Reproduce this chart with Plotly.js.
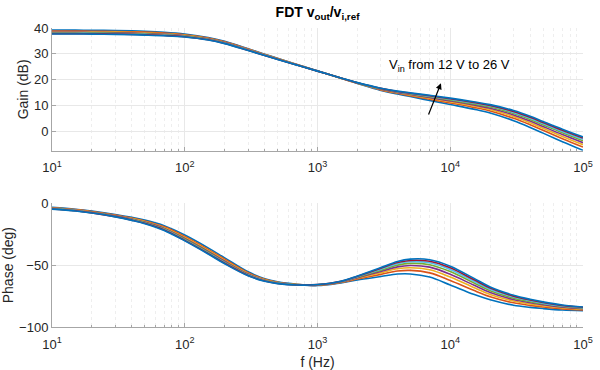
<!DOCTYPE html>
<html>
<head>
<meta charset="utf-8">
<script src="https://cdn.plot.ly/plotly-3.0.1.min.js"></script>
<style>html,body{margin:0;padding:0;background:#fff;}#plot{width:600px;height:370px;}</style>
</head>
<body>
<div id="plot"></div>
<script>
// Frequencies (Hz)
const freq = [10, 15, 20, 30, 40, 50, 70, 100, 150, 200, 300, 400, 500, 700, 1000, 1500, 2000, 3000, 4000, 5000, 7000, 10000, 15000, 20000, 30000, 40000, 50000, 70000, 100000];
// Input voltages
const vinLabels = ['12 V', '14 V', '16 V', '18 V', '20 V', '22 V', '24 V', '26 V'];

// Gain (dB)
const gain12 = [39.2, 39.17, 39.13, 39.03, 38.9, 38.75, 38.38, 37.7, 36.35, 34.85, 32.0, 29.88, 28.28, 25.88, 23.4, 20.55, 18.55, 15.85, 14.45, 13.45, 11.95, 10.4, 8.6, 7.1, 4.1, 1.5, -0.7, -4.0, -7.35];
const gain14 = [38.84, 38.81, 38.77, 38.67, 38.54, 38.39, 38.04, 37.41, 36.11, 34.63, 31.83, 29.75, 28.17, 25.82, 23.38, 20.57, 18.62, 16.05, 14.71, 13.8, 12.43, 10.99, 9.28, 7.88, 5.05, 2.54, 0.39, -2.84, -6.1];
const gain16 = [38.57, 38.54, 38.5, 38.4, 38.27, 38.12, 37.79, 37.2, 35.93, 34.47, 31.71, 29.65, 28.09, 25.78, 23.36, 20.59, 18.68, 16.21, 14.91, 14.06, 12.79, 11.43, 9.8, 8.47, 5.76, 3.33, 1.21, -1.96, -5.17];
const gain18 = [38.35, 38.32, 38.28, 38.18, 38.05, 37.9, 37.58, 37.02, 35.78, 34.34, 31.6, 29.57, 28.02, 25.74, 23.34, 20.61, 18.72, 16.34, 15.08, 14.28, 13.09, 11.8, 10.23, 8.95, 6.35, 3.98, 1.89, -1.24, -4.39];
const gain20 = [38.14, 38.11, 38.07, 37.97, 37.84, 37.69, 37.39, 36.85, 35.64, 34.21, 31.5, 29.49, 27.96, 25.7, 23.33, 20.62, 18.76, 16.45, 15.23, 14.48, 13.37, 12.14, 10.62, 9.41, 6.91, 4.59, 2.53, -0.56, -3.66];
const gain22 = [37.97, 37.94, 37.9, 37.8, 37.67, 37.52, 37.23, 36.72, 35.53, 34.11, 31.43, 29.43, 27.91, 25.68, 23.32, 20.63, 18.8, 16.55, 15.35, 14.64, 13.59, 12.41, 10.94, 9.77, 7.34, 5.07, 3.03, -0.02, -3.09];
const gain24 = [37.84, 37.81, 37.77, 37.67, 37.54, 37.39, 37.11, 36.61, 35.44, 34.03, 31.36, 29.38, 27.87, 25.65, 23.31, 20.64, 18.82, 16.62, 15.45, 14.77, 13.77, 12.63, 11.19, 10.06, 7.7, 5.46, 3.44, 0.41, -2.62];
const gain26 = [37.7, 37.67, 37.63, 37.53, 37.4, 37.25, 36.98, 36.5, 35.35, 33.95, 31.3, 29.33, 27.83, 25.63, 23.3, 20.65, 18.85, 16.7, 15.55, 14.9, 13.95, 12.85, 11.45, 10.35, 8.05, 5.85, 3.85, 0.85, -2.15];

// Phase (deg)
const phase12 = [-3.3, -4.8, -6.35, -9.05, -11.4, -13.55, -18.1, -25.6, -36.0, -44.1, -55.4, -61.0, -63.5, -65.5, -66.5, -64.3, -62.0, -59.2, -57.2, -57.1, -59.6, -66.0, -73.5, -78.0, -82.4, -84.1, -85.1, -86.3, -86.9];
const phase14 = [-3.64, -5.14, -6.71, -9.51, -11.98, -14.25, -19.01, -26.75, -37.2, -45.25, -56.17, -61.48, -63.84, -65.64, -66.31, -63.99, -61.21, -57.45, -54.75, -54.22, -56.24, -62.35, -70.38, -75.5, -80.46, -82.54, -83.8, -85.32, -86.16];
const phase16 = [-3.89, -5.39, -6.98, -9.85, -12.41, -14.77, -19.7, -27.62, -38.1, -46.12, -56.74, -61.84, -64.09, -65.75, -66.16, -63.75, -60.61, -56.13, -52.92, -52.06, -53.72, -59.62, -68.04, -73.63, -79.0, -81.37, -82.83, -84.58, -85.6];
const phase18 = [-4.1, -5.6, -7.21, -10.13, -12.77, -15.2, -20.27, -28.34, -38.85, -46.84, -57.22, -62.14, -64.3, -65.84, -66.04, -63.56, -60.12, -55.04, -51.39, -50.26, -51.62, -57.34, -66.09, -72.07, -77.78, -80.4, -82.02, -83.96, -85.13];
const phase20 = [-4.29, -5.79, -7.42, -10.4, -13.1, -15.61, -20.8, -29.01, -39.55, -47.51, -57.67, -62.42, -64.49, -65.93, -65.93, -63.38, -59.66, -54.02, -49.96, -48.58, -49.66, -55.21, -64.27, -70.62, -76.65, -79.49, -81.27, -83.39, -84.7];
const phase22 = [-4.45, -5.95, -7.58, -10.61, -13.37, -15.93, -21.22, -29.54, -40.1, -48.04, -58.02, -62.64, -64.65, -65.99, -65.84, -63.23, -59.29, -53.21, -48.84, -47.26, -48.12, -53.54, -62.84, -69.47, -75.76, -78.77, -80.67, -82.94, -84.36];
const phase24 = [-4.57, -6.07, -7.72, -10.78, -13.58, -16.19, -21.56, -29.97, -40.55, -48.47, -58.31, -62.82, -64.77, -66.05, -65.77, -63.12, -59.0, -52.56, -47.92, -46.18, -46.86, -52.17, -61.67, -68.54, -75.03, -78.19, -80.19, -82.57, -84.08];
const phase26 = [-4.7, -6.2, -7.85, -10.95, -13.8, -16.45, -21.9, -30.4, -41.0, -48.9, -58.6, -63.0, -64.9, -66.1, -65.7, -63.0, -58.7, -51.9, -47.0, -45.1, -45.6, -50.8, -60.5, -67.6, -74.3, -77.6, -79.7, -82.2, -83.8];

// Axis ticks
const xTickVals = [10, 100, 1000, 10000, 100000];
const xTickText = ['10<sup>1</sup>', '10<sup>2</sup>', '10<sup>3</sup>', '10<sup>4</sup>', '10<sup>5</sup>'];
const gainTicks = [0, 10, 20, 30, 40];
const phaseTicks = [-100, -50, 0];

const gains = [gain12, gain14, gain16, gain18, gain20, gain22, gain24, gain26];
const phases = [phase12, phase14, phase16, phase18, phase20, phase22, phase24, phase26];
const colors = ['#0072BD', '#D95319', '#EDB120', '#7E2F8E', '#77AC30', '#4DBEEE', '#A2142F', '#0072BD'];

const traces = [];
gains.forEach((g, i) => {
  traces.push({x: freq, y: g, xaxis: 'x', yaxis: 'y', mode: 'lines', name: vinLabels[i],
    line: {color: colors[i], width: 1.6, shape: 'spline', smoothing: 1}, showlegend: false, hoverinfo: 'skip'});
});
phases.forEach((p, i) => {
  traces.push({x: freq, y: p, xaxis: 'x2', yaxis: 'y2', mode: 'lines', name: vinLabels[i],
    line: {color: colors[i], width: 1.6, shape: 'spline', smoothing: 1}, showlegend: false, hoverinfo: 'skip'});
});

const FONT = 'Arial, "Liberation Sans", Helvetica, sans-serif';
const axisCommon = {
  showline: true, linecolor: '#a6a6a6', linewidth: 1, mirror: false,
  ticks: 'inside', ticklen: 4, tickcolor: '#a6a6a6',
  showgrid: true, gridcolor: '#e8e8e8', zeroline: false,
  tickfont: {family: FONT, size: 13, color: '#262626'}
};
const xCommon = Object.assign({}, axisCommon, {
  type: 'log', range: [1, 5], tickvals: xTickVals, ticktext: xTickText, ticklabelstandoff: 5,
  minor: {dtick: 'D1', showgrid: true, gridcolor: '#eeeeee', griddash: 'dot', ticks: 'inside', ticklen: 2, tickcolor: '#a6a6a6'}
});

const layout = {
  width: 600, height: 370,
  margin: {l: 52, r: 17, t: 28, b: 43},
  paper_bgcolor: '#ffffff', plot_bgcolor: '#ffffff',
  font: {family: FONT, color: '#262626'},
  title: {text: '<b>FDT v<sub>out</sub>/v<sub>i,ref</sub></b>', x: 0.5, xref: 'paper', y: 0.966, yref: 'container', yanchor: 'middle',
    font: {family: FONT, size: 14, color: '#000000'}},
  xaxis: Object.assign({}, xCommon, {domain: [0, 1], anchor: 'y'}),
  yaxis: Object.assign({}, axisCommon, {domain: [0.5896, 1], anchor: 'x', range: [-7.5, 40], tickvals: gainTicks,
    title: {text: 'Gain (dB)', font: {family: FONT, size: 14, color: '#262626'}, standoff: 2}}),
  xaxis2: Object.assign({}, xCommon, {domain: [0, 1], anchor: 'y2',
    title: {text: 'f (Hz)', font: {family: FONT, size: 14, color: '#262626'}, standoff: 8}}),
  yaxis2: Object.assign({}, axisCommon, {domain: [0, 0.4137], anchor: 'x2', range: [-100, 0], tickvals: phaseTicks,
    title: {text: 'Phase (deg)', font: {family: FONT, size: 14, color: '#262626'}, standoff: 2}}),
  annotations: [
    {xref: 'x', yref: 'y', x: 3.526, y: 25.4, xanchor: 'left', yanchor: 'middle', showarrow: false,
      text: 'V<sub>in</sub> from 12 V to 26 V', font: {family: FONT, size: 13, color: '#000000'}},
    {xref: 'x', yref: 'y', x: 3.930, y: 18.6, axref: 'x', ayref: 'y', ax: 3.832, ay: 5.9,
      text: '', showarrow: true, arrowhead: 2, arrowsize: 1, arrowwidth: 1.2, arrowcolor: '#000000'}
  ]
};

Plotly.newPlot('plot', traces, layout, {staticPlot: true, displayModeBar: false});
</script>
</body>
</html>
